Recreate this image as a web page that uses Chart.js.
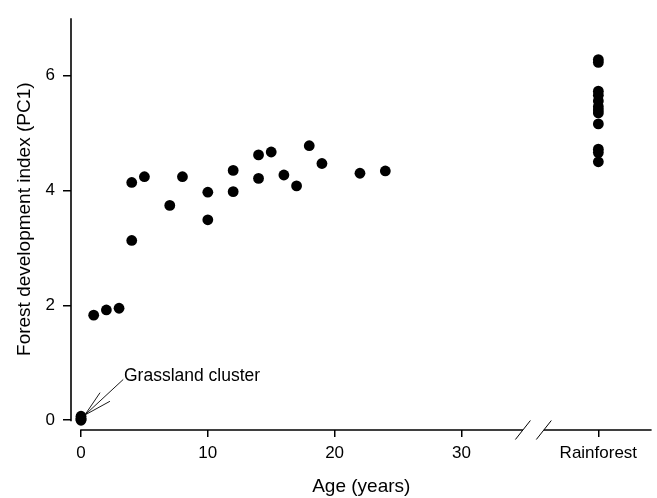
<!DOCTYPE html>
<html>
<head>
<meta charset="utf-8">
<script src="https://cdn.jsdelivr.net/npm/chart.js@4.4.1/dist/chart.umd.min.js"></script>
<style>
  html, body { margin: 0; padding: 0; background: #fff; }
  #wrap { width: 657px; height: 498px; }
</style>
</head>
<body>
<div id="wrap"><canvas id="grafico"></canvas></div>
<script>
// Sitios en regeneración: edad (años) e índice PC1
const edades = [0, 0, 0, 0, 1, 2, 3, 4, 4, 5, 7, 8, 10, 10, 12, 12, 14, 14, 15, 16, 17, 18, 19, 22, 24];
const indicePC1 = [0.00, 0.03, 0.07, 0.02, 1.83, 1.92, 1.95, 4.14, 3.13, 4.24, 3.74, 4.24, 3.97, 3.49,
                   4.35, 3.98, 4.62, 4.21, 4.67, 4.27, 4.08, 4.78, 4.47, 4.30, 4.34];

// Bosque de referencia (se dibuja en la columna "Rainforest")
const indiceBosque = [6.28, 6.23, 5.73, 5.66, 5.56, 5.46, 5.40, 5.35, 5.16, 4.72, 4.66, 4.50];
const posBosque = 40.8;

const ticksX = [0, 10, 20, 30, posBosque];
const ticksY = [0, 2, 4, 6];

// Corte del eje x entre la escala de edad y la columna del bosque
const corteX = [34.85, 36.5];

// Etiqueta del grupo de pastizal y sus flechas
const etiquetaPastizal = 'Grassland cluster';
const posEtiqueta = { x: 3.39, y: 0.77 };
const puntaFlechas = { x: 0.3, y: 0.09 };
const origenFlechas = [{ x: 3.33, y: 0.71 }, { x: 1.5, y: 0.48 }, { x: 2.28, y: 0.33 }];

const tituloY = 'Forest development index (PC1)';
const centroTituloY = 3.5;   // valor del eje y donde se centra el título

const fuente = 'Arial, "Liberation Sans", Helvetica, sans-serif';

// Dibuja los ejes separados, el corte, el título vertical y la anotación
const ejesPlugin = {
    id: 'ejes',
    afterDraw(chart) {
        const ctx = chart.ctx;
        const sx = chart.scales.x;
        const sy = chart.scales.y;
        const y0 = sy.getPixelForValue(0);
        const xAxisY = chart.chartArea.bottom;
        const yAxisX = chart.chartArea.left;

        ctx.save();
        ctx.strokeStyle = '#000';
        ctx.lineWidth = 1.6;
        ctx.lineCap = 'butt';

        // eje y
        ctx.beginPath();
        ctx.moveTo(yAxisX, chart.chartArea.top);
        ctx.lineTo(yAxisX, y0 + 1);
        ctx.stroke();

        // eje x en dos tramos
        const xa = sx.getPixelForValue(corteX[0]);
        const xb = sx.getPixelForValue(corteX[1]);
        ctx.beginPath();
        ctx.moveTo(sx.getPixelForValue(0) - 0.8, xAxisY);
        ctx.lineTo(xa, xAxisY);
        ctx.moveTo(xb, xAxisY);
        ctx.lineTo(chart.chartArea.right, xAxisY);
        ctx.stroke();

        // marcas del corte
        ctx.lineWidth = 1;
        [xa, xb].forEach(function (x) {
            ctx.beginPath();
            ctx.moveTo(x - 7.5, xAxisY + 9.5);
            ctx.lineTo(x + 7.5, xAxisY - 9.5);
            ctx.stroke();
        });

        // flechas hacia el grupo de pastizal
        const px = sx.getPixelForValue(puntaFlechas.x);
        const py = sy.getPixelForValue(puntaFlechas.y);
        ctx.lineWidth = 0.9;
        origenFlechas.forEach(function (o) {
            ctx.beginPath();
            ctx.moveTo(sx.getPixelForValue(o.x), sy.getPixelForValue(o.y));
            ctx.lineTo(px, py);
            ctx.stroke();
        });

        ctx.fillStyle = '#000';
        ctx.font = '17.5px ' + fuente;
        ctx.textAlign = 'left';
        ctx.textBaseline = 'middle';
        ctx.fillText(etiquetaPastizal, sx.getPixelForValue(posEtiqueta.x), sy.getPixelForValue(posEtiqueta.y));

        // título del eje y, girado
        ctx.translate(25, sy.getPixelForValue(centroTituloY));
        ctx.rotate(-Math.PI / 2);
        ctx.font = '19px ' + fuente;
        ctx.textAlign = 'center';
        ctx.fillText(tituloY, 0, 0);
        ctx.restore();
    }
};

document.addEventListener('DOMContentLoaded', function () {
    const ctx = document.getElementById('grafico').getContext('2d');

    const puntos = edades.map((e, i) => ({ x: e, y: indicePC1[i] }))
        .concat(indiceBosque.map(v => ({ x: posBosque, y: v })));

    new Chart(ctx, {
        type: 'scatter',
        data: {
            datasets: [{
                label: 'PC1',
                data: puntos,
                pointRadius: 5.4,
                pointHoverRadius: 5.4,
                backgroundColor: '#000',
                borderColor: '#000',
                borderWidth: 0
            }]
        },
        options: {
            responsive: true,
            maintainAspectRatio: false,
            animation: false,
            layout: { padding: { top: 10, right: 5, left: 0, bottom: 0 } },
            plugins: {
                legend: { display: false },
                tooltip: { enabled: false }
            },
            scales: {
                x: {
                    type: 'linear',
                    min: -0.79,
                    max: 45,
                    afterFit: function (scale) { scale.height = 68; },
                    afterBuildTicks: function (scale) {
                        scale.ticks = ticksX.map(v => ({ value: v }));
                    },
                    border: { display: false },
                    grid: { drawOnChartArea: false, drawTicks: true, tickLength: 7, color: '#000', lineWidth: 1.5 },
                    ticks: {
                        color: '#000',
                        padding: 6,
                        font: { family: fuente, size: 17 },
                        maxRotation: 0,
                        callback: function (v) { return v === posBosque ? 'Rainforest' : v; }
                    },
                    title: {
                        display: true,
                        text: 'Age (years)',
                        color: '#000',
                        font: { family: fuente, size: 19 },
                        padding: { top: 0, bottom: 0 }
                    }
                },
                y: {
                    min: -0.17,
                    max: 7,
                    afterFit: function (scale) { scale.width = 71; },
                    afterBuildTicks: function (scale) {
                        scale.ticks = ticksY.map(v => ({ value: v }));
                    },
                    border: { display: false },
                    grid: { drawOnChartArea: false, drawTicks: true, tickLength: 8, color: '#000', lineWidth: 1.5 },
                    ticks: {
                        color: '#000',
                        padding: 8,
                        font: { family: fuente, size: 17 }
                    },
                    title: { display: false }
                }
            }
        },
        plugins: [ejesPlugin]
    });
});
</script>
</body>
</html>
